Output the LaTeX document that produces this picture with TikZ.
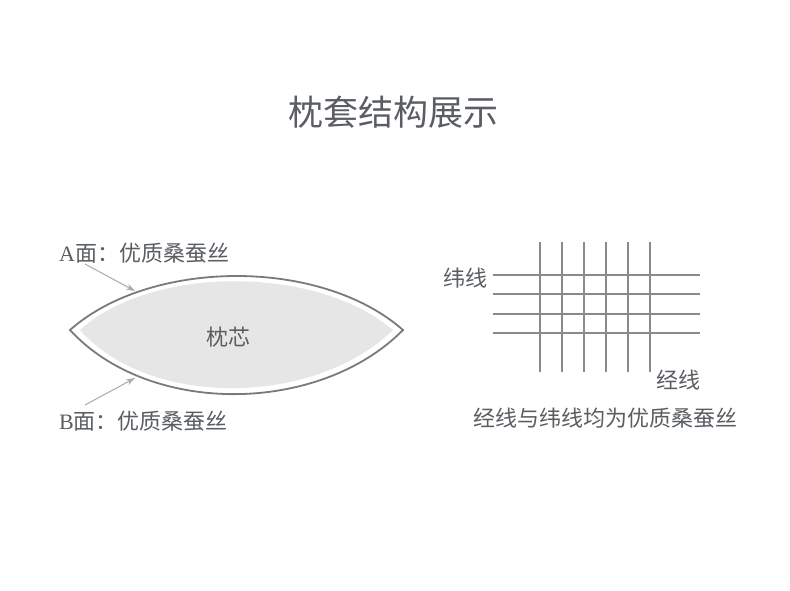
\documentclass[tikz,border=0pt]{standalone}
\usepackage{fontspec}
\setmainfont{Noto Sans CJK SC}
\newfontfamily\latinserif{Liberation Serif}
\usetikzlibrary{arrows.meta}
\definecolor{txt}{HTML}{5A5E62}
\definecolor{edge}{HTML}{7A7A7A}
\definecolor{fillg}{HTML}{E6E6E6}
\definecolor{arr}{HTML}{AAAAAA}
\definecolor{gridc}{HTML}{8A8A8A}
\tikzset{
  lbl/.style={text=txt, font=\fontsize{22}{26}\selectfont, inner sep=0pt},
  ttl/.style={text=txt, font=\fontsize{35}{40}\selectfont, inner sep=0pt},
  pointer/.style={draw=arr, line width=1pt, -{Stealth[length=9pt,width=6pt]}},
  gline/.style={draw=gridc, line width=1.1pt},
}
\begin{document}
\begin{tikzpicture}[x=1pt,y=-1pt]
\useasboundingbox (0,0) rectangle (790,590);
\fill[white] (0,0) rectangle (790,590);
% title
\node[ttl] (title) at (393,112) {枕套结构展示};
% lens
\fill[fillg] (80,330) .. controls (150,266) and (315,264) .. (393,330)
  .. controls (315,406) and (150,409) .. (80,330) -- cycle;
\draw[edge, line width=1.8pt, line join=miter] (70,330) .. controls (150,259) and (320,257) .. (403,330)
  .. controls (320,414) and (150,417) .. (70,330) -- cycle;
\node[lbl] (core) at (228,337) {枕芯};
% labels
\node[lbl, anchor=west] (la) at (59,253) {{\latinserif A}面：优质桑蚕丝};
\node[lbl, anchor=west] (lb) at (59,421) {{\latinserif B}面：优质桑蚕丝};
\coordinate (as) at (85,264);
\coordinate (ae) at (135,291);
\coordinate (bs) at (85,405);
\coordinate (be) at (135,378);
\draw[pointer] (as) -- (ae);
\draw[pointer] (bs) -- (be);
% grid
\foreach \x [count=\i] in {540,562,584,606,628,650} {
  \coordinate (vt\i) at (\x,242);
  \coordinate (vb\i) at (\x,372);
  \draw[gline] (vt\i) -- (vb\i);
}
\foreach \y [count=\i] in {275,294,314,333} {
  \coordinate (hl\i) at (493,\y);
  \coordinate (hr\i) at (700,\y);
  \draw[gline] (hl\i) -- (hr\i);
}
\node[lbl, anchor=east] (weft) at (488,278) {纬线};
\node[lbl] (warp) at (678,380) {经线};
\node[lbl] (note) at (605,418) {经线与纬线均为优质桑蚕丝};
\end{tikzpicture}
\end{document}
